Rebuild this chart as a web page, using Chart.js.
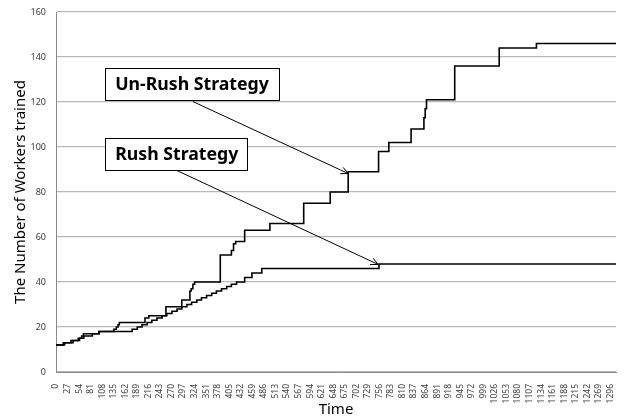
<!DOCTYPE html>
<html>
<head>
<meta charset="utf-8">
<script src="https://cdn.jsdelivr.net/npm/chart.js@4/dist/chart.umd.min.js"></script>
<style>
  html, body { margin: 0; padding: 0; background: #fff; }
  #wrap { width: 632px; height: 419px; }
</style>
</head>
<body>
<div id="wrap"><canvas id="chart"></canvas></div>
<script>
// step change points: time when the count changes, and the new count
const unrushTime = [0, 17, 35, 52, 60, 64, 101, 135, 141, 145, 148, 208, 217, 257, 294, 313, 316, 320, 324, 384, 410, 415, 420, 441, 500, 579, 641, 683, 754, 778, 830, 860, 863, 866, 932, 1036, 1123, 1309];
const unrushWorkers = [12, 13, 14, 15, 16, 17, 18, 19, 20, 21, 22, 24, 25, 29, 32, 36, 37, 39, 40, 52, 54, 57, 58, 63, 66, 75, 80, 89, 98, 102, 108, 113, 117, 121, 136, 144, 146, 146];

const rushTime = [0, 20, 40, 55, 65, 85, 100, 178, 190, 201, 213, 224, 236, 248, 259, 271, 283, 294, 306, 317, 329, 340, 352, 364, 375, 387, 399, 410, 422, 441, 458, 481, 755, 1309];
const rushWorkers = [12, 13, 14, 15, 16, 17, 18, 19, 20, 21, 22, 23, 24, 25, 26, 27, 28, 29, 30, 31, 32, 33, 34, 35, 36, 37, 38, 39, 40, 42, 44, 46, 48, 48];

const timeTicks = [0, 27, 54, 81, 108, 135, 162, 189, 216, 243, 270, 297, 324, 351, 378, 405, 432, 459, 486, 513, 540, 567, 594, 621, 648, 675, 702, 729, 756, 783, 810, 837, 864, 891, 918, 945, 972, 999, 1026, 1053, 1080, 1107, 1134, 1161, 1188, 1215, 1242, 1269, 1296];

// callout boxes and arrows, in data units (time, workers)
const callouts = [
  { label: 'Un-Rush Strategy', box: [115, 134.9, 522, 120.7], tail: [320, 120.2], tip: [683, 88.2] },
  { label: 'Rush Strategy', box: [115, 103.8, 447, 89.6], tail: [282, 89.6], tip: [753, 47.8] }
];

function toPoints(times, values) {
  return times.map((t, i) => ({ x: t, y: values[i] }));
}

const calloutPlugin = {
  id: 'callouts',
  afterDatasetsDraw(chart) {
    const ctx = chart.ctx;
    const xs = chart.scales.x, ys = chart.scales.y;
    ctx.save();
    callouts.forEach(function(c) {
      // arrow
      const x1 = xs.getPixelForValue(c.tail[0]), y1 = ys.getPixelForValue(c.tail[1]);
      const x2 = xs.getPixelForValue(c.tip[0]), y2 = ys.getPixelForValue(c.tip[1]);
      ctx.strokeStyle = '#000';
      ctx.lineWidth = 1;
      ctx.beginPath();
      ctx.moveTo(x1, y1);
      ctx.lineTo(x2, y2);
      const ang = Math.atan2(y2 - y1, x2 - x1);
      const len = 8;
      ctx.moveTo(x2 - len * Math.cos(ang - 0.45), y2 - len * Math.sin(ang - 0.45));
      ctx.lineTo(x2, y2);
      ctx.lineTo(x2 - len * Math.cos(ang + 0.45), y2 - len * Math.sin(ang + 0.45));
      ctx.stroke();

      // box
      const bl = xs.getPixelForValue(c.box[0]), bt = ys.getPixelForValue(c.box[1]);
      const br = xs.getPixelForValue(c.box[2]), bb = ys.getPixelForValue(c.box[3]);
      ctx.fillStyle = '#fff';
      ctx.fillRect(bl, bt, br - bl, bb - bt);
      ctx.lineWidth = 1;
      ctx.strokeRect(Math.round(bl) + 0.5, Math.round(bt) + 0.5, Math.round(br - bl), Math.round(bb - bt));
      ctx.fillStyle = '#000';
      ctx.font = 'bold 17.7px "Noto Sans"';
      ctx.textBaseline = 'middle';
      ctx.fillText(c.label, bl + 10, (bt + bb) / 2 + 1);
    });
    ctx.restore();
  }
};

new Chart(document.getElementById('chart'), {
  type: 'line',
  data: {
    datasets: [
      {
        label: 'Un-Rush Strategy',
        data: toPoints(unrushTime, unrushWorkers),
        borderColor: '#000',
        borderWidth: 1.6,
        stepped: true,
        pointRadius: 0,
        fill: false
      },
      {
        label: 'Rush Strategy',
        data: toPoints(rushTime, rushWorkers),
        borderColor: '#000',
        borderWidth: 1.6,
        stepped: true,
        pointRadius: 0,
        fill: false
      }
    ]
  },
  options: {
    responsive: true,
    maintainAspectRatio: false,
    animation: false,
    layout: { padding: { left: 0, right: 16, top: 12, bottom: 0 } },
    plugins: {
      legend: { display: false },
      tooltip: { enabled: false }
    },
    scales: {
      x: {
        type: 'linear',
        min: 0,
        max: 1309,
        grid: { display: false },
        border: { display: true, color: '#898989', width: 1 },
        afterBuildTicks(scale) {
          scale.ticks = timeTicks.map(v => ({ value: v }));
        },
        afterFit(scale) {
          scale.height = 47;
          scale.paddingLeft = 0;
          scale.paddingRight = 0;
        },
        ticks: {
          autoSkip: false,
          maxRotation: 90,
          minRotation: 90,
          padding: 4,
          color: '#404040',
          font: { family: 'Noto Sans', size: 8.5 },
          callback: v => String(v)
        },
        title: {
          display: true,
          text: 'Time',
          color: '#000',
          padding: { top: 0, bottom: 0 },
          font: { family: 'Noto Sans', size: 15 }
        }
      },
      y: {
        min: 0,
        max: 160,
        grid: { color: '#b9b9b9', lineWidth: 1.3, drawTicks: false },
        border: { display: true, color: '#898989', width: 1 },
        afterFit(scale) {
          scale.width = 56;
          scale.paddingTop = 0;
          scale.paddingBottom = 0;
        },
        ticks: {
          stepSize: 20,
          padding: 10,
          color: '#404040',
          font: { family: 'Noto Sans', size: 9 }
        },
        title: {
          display: true,
          text: 'The Number of Workers trained',
          color: '#000',
          padding: { top: 12, bottom: 0 },
          font: { family: 'Noto Sans', size: 15 }
        }
      }
    }
  },
  plugins: [calloutPlugin]
});
</script>
</body>
</html>
